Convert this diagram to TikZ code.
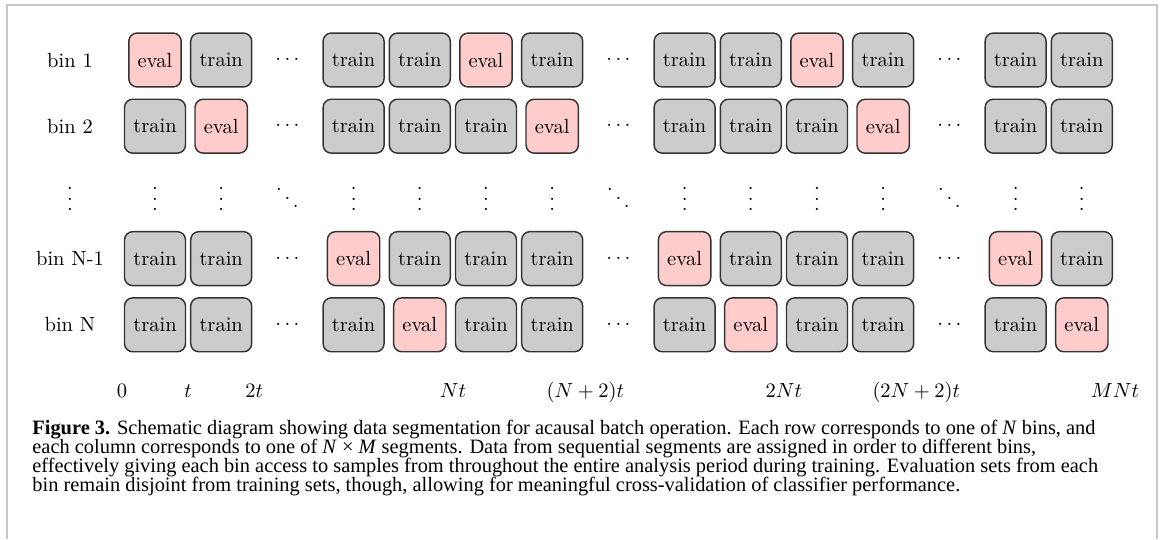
\documentclass[tikz,border=0pt]{standalone}
\usepackage{fontspec}
\newfontfamily\capfont{Liberation Serif}
\newcommand\mvd{\vbox{\baselineskip5pt\lineskiplimit0pt\hbox{.}\hbox{.}\hbox{.}}}
\newcommand\mdd{\hbox{\raise8pt\hbox{.}\kern1.3pt\raise4pt\hbox{.}\kern1.3pt\hbox{.}}}
\begin{document}
\begin{tikzpicture}[x=0.4878pt,y=-0.4878pt,
  seg/.style={draw=black!80, line width=0.7pt, rounded corners=4pt, minimum height=26.3pt, inner xsep=4.3pt, inner ysep=0pt},
  evalbox/.style={seg, fill=red!20},
  trainbox/.style={seg, fill=black!20},
  dotnode/.style={inner sep=0pt},
  frameline/.style={draw=black!22, line width=0.6pt},
  captext/.style={anchor=base west, inner sep=0pt, font=\capfont\fontsize{9.95}{12}\selectfont},
  tick/.style={anchor=base, inner sep=0pt}
  ]
\useasboundingbox (0,0) rectangle (1167,539);
\draw[frameline] (7,539) -- (7,5) -- (1157,5) -- (1157,539);

\foreach \r/\lab/\pat in {
  1/bin 1/{E,T,D,T,T,E,T,D,T,T,E,T,D,T,T},
  2/bin 2/{T,E,D,T,T,T,E,D,T,T,T,E,D,T,T},
  4/bin N-1/{T,T,D,E,T,T,T,D,E,T,T,T,D,E,T},
  5/bin N/{T,T,D,T,E,T,T,D,T,E,T,T,D,T,E}} {
  \pgfmathsetmacro\yy{60+66.2*(\r-1)}
  \node (lab\r) at (70,\yy) {\lab};
  \foreach \t [count=\k] in \pat {
    \pgfmathsetmacro\xx{155+66.2*(\k-1)}
    \if\t E\node[evalbox] (n\r-\k) at (\xx,\yy) {eval};
    \else\if\t T\node[trainbox] (n\r-\k) at (\xx,\yy) {train};
    \else\node[dotnode] (n\r-\k) at (\xx,\yy) {$\cdots$};
    \fi\fi
  }
}

\node[dotnode] (v0) at (70,199) {\mvd};
\foreach \k in {1,...,15} {
  \pgfmathsetmacro\xx{155+66.2*(\k-1)}
  \ifnum\k=3 \node[dotnode] (v\k) at (\xx,198) {\mdd};
  \else\ifnum\k=8 \node[dotnode] (v\k) at (\xx,198) {\mdd};
  \else\ifnum\k=13 \node[dotnode] (v\k) at (\xx,198) {\mdd};
  \else \node[dotnode] (v\k) at (\xx,199) {\mvd};
  \fi\fi\fi
}

\node[tick] (t0) at (121.9,397.5) {$0$};
\node[tick] (t1) at (188.1,397.5) {$t$};
\node[tick] (t2) at (254.3,397.5) {$2t$};
\node[tick] (t5) at (453.0,397.5) {$Nt$};
\node[tick] (t7) at (585.4,397.5) {$(N+2)t$};
\node[tick] (t10) at (783.9,397.5) {$2Nt$};
\node[tick] (t12) at (916.3,397.5) {$(2N+2)t$};
\node[tick] (t15) at (1114.9,397.5) {$MNt$};

\node[captext] (cap1) at (32,434) {\textbf{Figure 3.} Schematic diagram showing data segmentation for acausal batch operation. Each row corresponds to one of \textit{N} bins, and};
\node[captext] (cap2) at (32,453) {each column corresponds to one of \textit{N} × \textit{M} segments. Data from sequential segments are assigned in order to different bins,};
\node[captext] (cap3) at (32,472) {effectively giving each bin access to samples from throughout the entire analysis period during training. Evaluation sets from each};
\node[captext] (cap4) at (32,491) {bin remain disjoint from training sets, though, allowing for meaningful cross-validation of classifier performance.};
\end{tikzpicture}
\end{document}
